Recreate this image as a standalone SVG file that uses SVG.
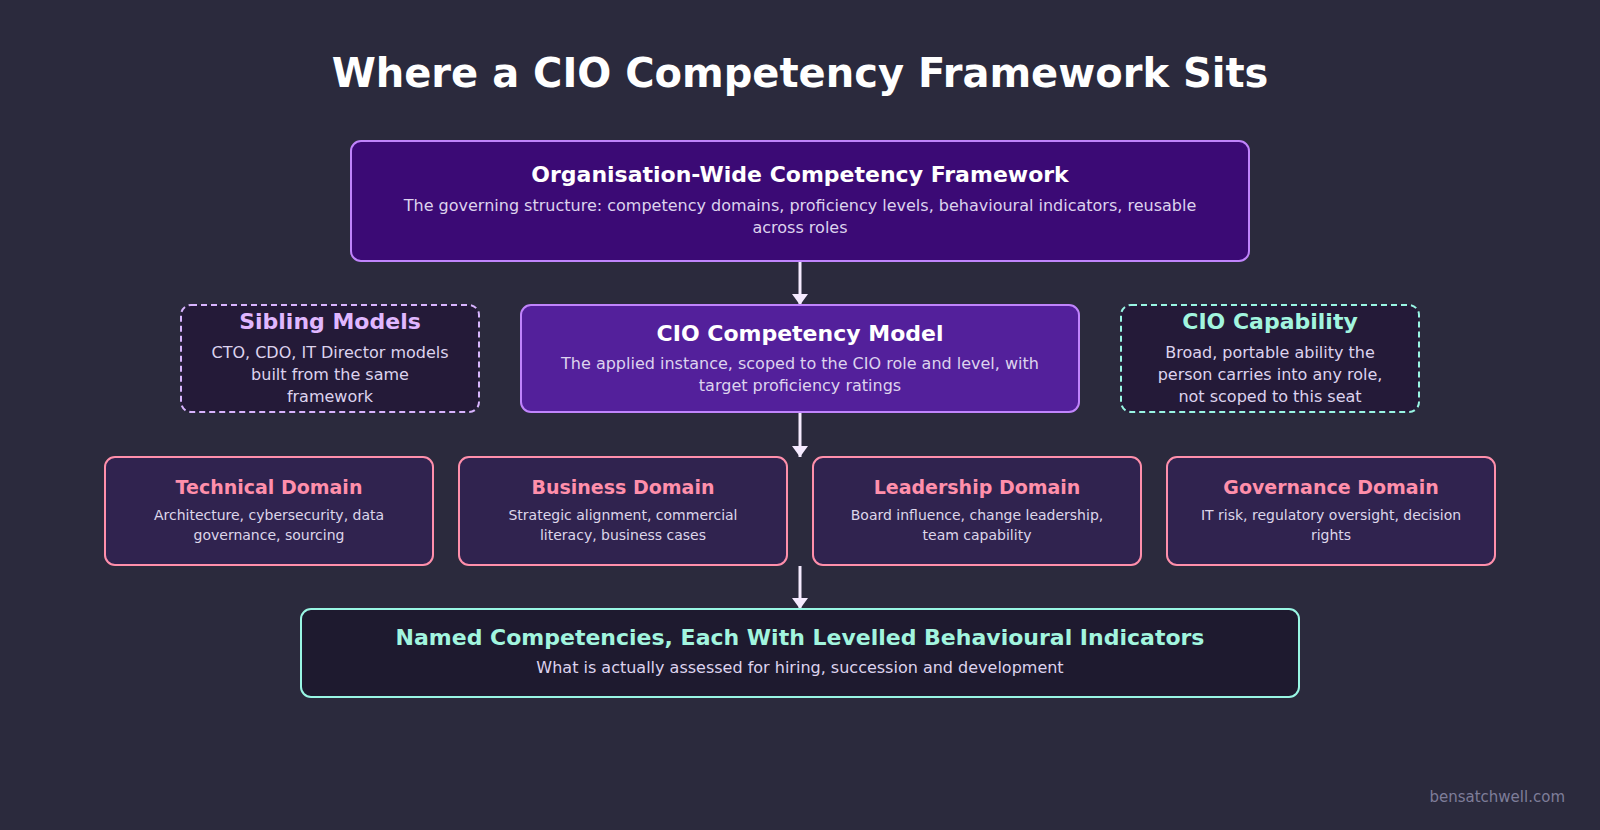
<svg xmlns="http://www.w3.org/2000/svg" width="1600" height="830" viewBox="0 0 1600 830">
<style>
text{font-family:"DejaVu Sans","Noto Sans",sans-serif;text-anchor:middle}
.t{font-weight:bold}
.sub{font-size:16px;fill:#ddd3ee}
.dsub{font-size:14px;fill:#ddd6ea}
.dt{font-size:19px;font-weight:bold;fill:#ff8fab}
.dom{fill:#30234f;stroke:#ff8fab;stroke-width:2}
.conn{stroke:#f5eaff;stroke-width:3;fill:none}
</style>
<defs>
<marker id="ah" viewBox="0 0 11 16" refX="11" refY="8" markerWidth="11" markerHeight="16" markerUnits="userSpaceOnUse" orient="auto">
<path d="M0,0 L11,8 L0,16 z" fill="#f5eaff"/>
</marker>
</defs>
<rect width="1600" height="830" fill="#2b2a3d"/>
<text x="800" y="87" class="t" font-size="40" fill="#ffffff">Where a CIO Competency Framework Sits</text>

<g id="connectors">
<line class="conn" x1="800" y1="261" x2="800" y2="305" marker-end="url(#ah)"/>
<line class="conn" x1="800" y1="412" x2="800" y2="457" marker-end="url(#ah)"/>
<line class="conn" x1="800" y1="566" x2="800" y2="609" marker-end="url(#ah)"/>
</g>

<g id="framework">
<rect x="351" y="141" width="898" height="120" rx="10" fill="#3b0a75" stroke="#c084fc" stroke-width="2"/>
<text x="800" y="182" class="t" font-size="22" fill="#ffffff">Organisation-Wide Competency Framework</text>
<text x="800" y="211" class="sub">The governing structure: competency domains, proficiency levels, behavioural indicators, reusable</text>
<text x="800" y="232.5" class="sub">across roles</text>
</g>

<g id="sibling">
<rect x="181" y="305" width="298" height="107" rx="10" fill="#241a38" stroke="#d8b4fe" stroke-width="2" stroke-dasharray="6 4"/>
<text x="330" y="329" class="t" font-size="22" fill="#e0b7ff">Sibling Models</text>
<text x="330" y="358" class="sub" fill="#d8d3e0">CTO, CDO, IT Director models</text>
<text x="330" y="380" class="sub">built from the same</text>
<text x="330" y="401.5" class="sub">framework</text>
</g>

<g id="model">
<rect x="521" y="305" width="558" height="107" rx="10" fill="#53209b" stroke="#c084fc" stroke-width="2"/>
<text x="800" y="340.5" class="t" font-size="22" fill="#ffffff">CIO Competency Model</text>
<text x="800" y="369" class="sub">The applied instance, scoped to the CIO role and level, with</text>
<text x="800" y="390.5" class="sub">target proficiency ratings</text>
</g>

<g id="capability">
<rect x="1121" y="305" width="298" height="107" rx="10" fill="#241a38" stroke="#99f6e4" stroke-width="2" stroke-dasharray="6 4"/>
<text x="1270" y="329" class="t" font-size="22" fill="#a2f5df">CIO Capability</text>
<text x="1270" y="358" class="sub">Broad, portable ability the</text>
<text x="1270" y="380" class="sub">person carries into any role,</text>
<text x="1270" y="401.5" class="sub">not scoped to this seat</text>
</g>

<g id="technical">
<rect class="dom" x="105" y="457" width="328" height="108" rx="10"/>
<text x="269" y="494" class="dt">Technical Domain</text>
<text x="269" y="519.5" class="dsub">Architecture, cybersecurity, data</text>
<text x="269" y="540" class="dsub">governance, sourcing</text>
</g>

<g id="business">
<rect class="dom" x="459" y="457" width="328" height="108" rx="10"/>
<text x="623" y="494" class="dt">Business Domain</text>
<text x="623" y="519.5" class="dsub">Strategic alignment, commercial</text>
<text x="623" y="540" class="dsub">literacy, business cases</text>
</g>

<g id="leadership">
<rect class="dom" x="813" y="457" width="328" height="108" rx="10"/>
<text x="977" y="494" class="dt">Leadership Domain</text>
<text x="977" y="519.5" class="dsub">Board influence, change leadership,</text>
<text x="977" y="540" class="dsub">team capability</text>
</g>

<g id="governance">
<rect class="dom" x="1167" y="457" width="328" height="108" rx="10"/>
<text x="1331" y="494" class="dt">Governance Domain</text>
<text x="1331" y="519.5" class="dsub">IT risk, regulatory oversight, decision</text>
<text x="1331" y="540" class="dsub">rights</text>
</g>

<g id="named">
<rect x="301" y="609" width="998" height="88" rx="10" fill="#1e1a2f" stroke="#99f6e4" stroke-width="2"/>
<text x="800" y="644.5" class="t" font-size="22" fill="#a2f5df">Named Competencies, Each With Levelled Behavioural Indicators</text>
<text x="800" y="673" class="sub">What is actually assessed for hiring, succession and development</text>
</g>

<text x="1565" y="802" font-size="15" fill="#7e7d99" style="text-anchor:end">bensatchwell.com</text>
</svg>
